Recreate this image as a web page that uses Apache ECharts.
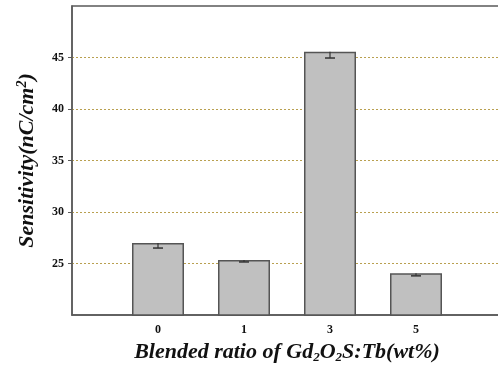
<!DOCTYPE html>
<html><head><meta charset="utf-8">
<script src="https://cdn.jsdelivr.net/npm/echarts@6/dist/echarts.min.js"></script>
<style>html,body{margin:0;padding:0;background:#fff}#c{width:498px;height:370px}</style>
</head><body><div id="c"></div>
<script>
var categories = ['', '0', '1', '3', '5', ''];
var values = [null, 27.0, 25.35, 45.55, 24.05, null];
var errors = [null, 0.5, 0.2, 0.6, 0.25, null];
var yTicks = [25, 30, 35, 40, 45];

var chart = echarts.init(document.getElementById('c'));
var serif = '"Liberation Serif", "DejaVu Serif", serif';
chart.setOption({
  animation: false,
  grid: { left: 72, right: -4, top: 6, bottom: 55, show: true, borderColor: '#5a5a5a', borderWidth: 1.5,
    containLabel: false, outerBoundsMode: 'none' },
  xAxis: {
    type: 'category', data: categories, boundaryGap: false,
    axisLine: { lineStyle: { color: '#5a5a5a', width: 1.5 } },
    axisTick: { show: false },
    axisLabel: { color: '#111', fontFamily: serif, fontWeight: 'bold', fontSize: 12, margin: 9 },
    splitLine: { show: false },
    name: '{t|Blended ratio of Gd}{s|2}{t|O}{s|2}{t|S:Tb(wt%)}',
    nameLocation: 'middle', nameGap: 26,
    nameTextStyle: {
      rich: {
        t: { fontFamily: serif, fontWeight: 'bold', fontStyle: 'italic', fontSize: 22, color: '#111' },
        s: { fontFamily: serif, fontWeight: 'bold', fontStyle: 'italic', fontSize: 13, color: '#111', padding: [10, 0, 0, 0] }
      }
    }
  },
  yAxis: {
    type: 'value', min: 20, max: 50, interval: 5,
    axisLine: { show: true, lineStyle: { color: '#5a5a5a', width: 1.5 } },
    axisTick: { show: true, length: 4, customValues: yTicks, lineStyle: { color: '#5a5a5a' } },
    axisLabel: { color: '#111', fontFamily: serif, fontWeight: 'bold', fontSize: 12, margin: 8, customValues: yTicks },
    splitLine: { show: true, lineStyle: { color: '#b9a050', type: [2, 2], width: 1 } },
    name: '{t|Sensitivity(nC/cm}{p|2}{t|)}',
    nameLocation: 'middle', nameGap: 33,
    nameTextStyle: {
      rich: {
        t: { fontFamily: serif, fontWeight: 'bold', fontStyle: 'italic', fontSize: 22, color: '#111' },
        p: { fontFamily: serif, fontWeight: 'bold', fontStyle: 'italic', fontSize: 14, color: '#111', padding: [0, 0, 10, 0] }
      }
    }
  },
  series: [
    { type: 'bar', data: values, barWidth: 52,
      itemStyle: { color: '#c0c0c0', borderColor: '#555', borderWidth: 1.5 } },
    { type: 'custom', z: 5,
      data: values.map(function (v, i) { return v == null ? [i, null, null] : [i, v, errors[i]]; }),
      renderItem: function (params, api) {
        var v = api.value(1), e = api.value(2);
        if (v == null || isNaN(v)) return;
        var top = api.coord([api.value(0), v]);
        var bot = api.coord([api.value(0), v - e]);
        var hw = 5;
        return { type: 'group', children: [
          { type: 'line', shape: { x1: top[0], y1: top[1], x2: bot[0], y2: bot[1] }, style: { stroke: '#333', lineWidth: 1.2 } },
          { type: 'line', shape: { x1: bot[0] - hw, y1: bot[1], x2: bot[0] + hw, y2: bot[1] }, style: { stroke: '#333', lineWidth: 1.5 } }
        ] };
      }
    }
  ]
});
</script></body></html>
